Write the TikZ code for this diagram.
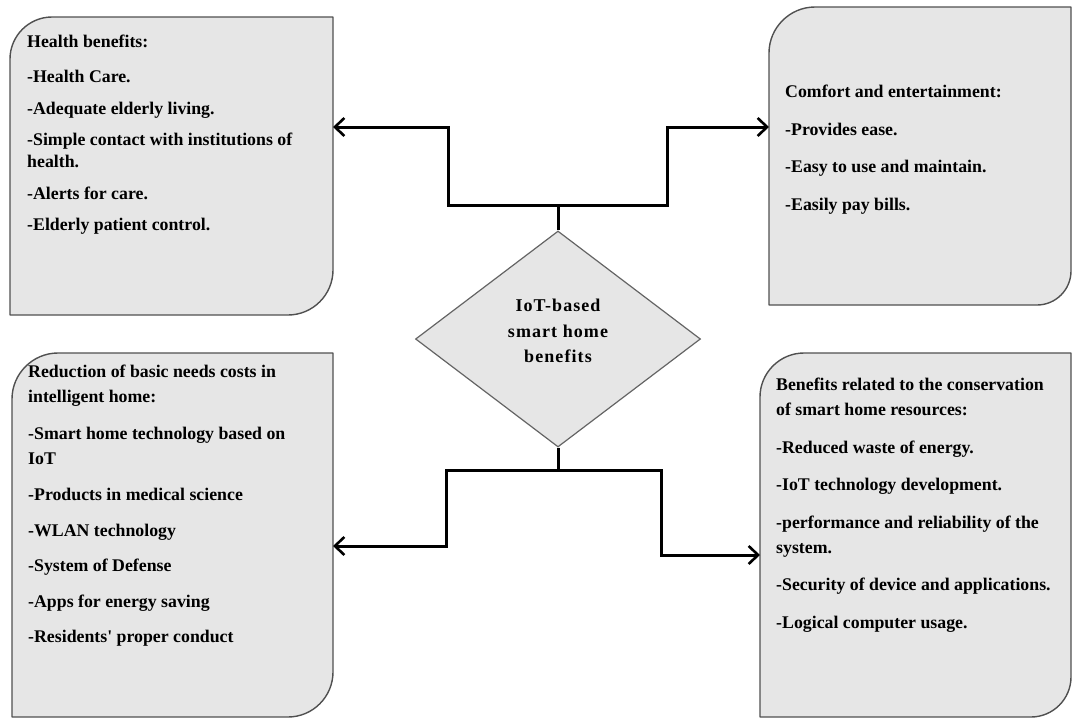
\documentclass[tikz,border=0pt]{standalone}
\usepackage{fontspec}
\setmainfont{Liberation Serif}
\newfontfamily\hubfont[LetterSpace=6]{Liberation Serif}
\usetikzlibrary{shapes.geometric,arrows.meta,calc}

\definecolor{panelfill}{RGB}{230,230,230}
\definecolor{paneledge}{RGB}{80,80,80}
\definecolor{hubedge}{RGB}{100,100,100}

% outline of a panel: rounded top-left and bottom-right corners
\newcommand\panelshape[3]{%
  \draw[panelline] ($(#1.north west)+(0,#2)$)
    .. controls ($(#1.north west)+(0,0.45*#2)$) and ($(#1.north west)+(0.45*#2,0)$) .. ($(#1.north west)+(#2,0)$)
    -- (#1.north east)
    -- ($(#1.south east)+(0,-#3)$)
    .. controls ($(#1.south east)+(0,-0.45*#3)$) and ($(#1.south east)+(-0.45*#3,0)$) .. ($(#1.south east)+(-#3,0)$)
    -- (#1.south west) -- cycle;}

\begin{document}
\begin{tikzpicture}[x=1pt,y=-1pt,
  panelarea/.style={rectangle,inner sep=0pt,outer sep=0pt},
  panelline/.style={draw=paneledge,fill=panelfill,line width=1.4pt,line join=round},
  boxtext/.style={anchor=north west,inner sep=0pt,align=left},
  hub/.style={diamond,draw=hubedge,fill=panelfill,line width=1.2pt,
    minimum width=285pt,minimum height=216pt,inner sep=0pt},
  hubtext/.style={inner sep=0pt,align=center,
    font=\hubfont\bfseries\fontsize{18}{25.5}\selectfont},
  link/.style={draw=black,line width=3pt,
    -{Straight Barb[length=9.5pt,width=18pt,line width=2.6pt]}}]

\useasboundingbox (0,0) rectangle (1072,718);

% panels
\node[panelarea,minimum width=323pt,minimum height=298pt] (health) at (171.5,166) {};
\node[panelarea,minimum width=302pt,minimum height=298pt] (comfort) at (920,156) {};
\node[panelarea,minimum width=321pt,minimum height=364pt] (reduction) at (172.5,535) {};
\node[panelarea,minimum width=311pt,minimum height=364pt] (conservation) at (915.5,535) {};

\panelshape{health}{42}{45}
\panelshape{comfort}{46}{34}
\panelshape{reduction}{46}{45}
\panelshape{conservation}{44}{40}

% panel texts
\node[boxtext,font=\bfseries\fontsize{17.8}{22}\selectfont] (healthtext) at (27,35)
  {Health benefits:\\[13pt]
   -Health Care.\\[9.5pt]
   -Adequate elderly living.\\[9.5pt]
   -Simple contact with institutions of\\
   health.\\[9.5pt]
   -Alerts for care.\\[9.5pt]
   -Elderly patient control.};

\node[boxtext,font=\bfseries\fontsize{17.8}{22}\selectfont] (comforttext) at (785,85)
  {Comfort and entertainment:\\[15.5pt]
   -Provides ease.\\[15.5pt]
   -Easy to use and maintain.\\[15.5pt]
   -Easily pay bills.};

\node[boxtext,font=\bfseries\fontsize{17.8}{25}\selectfont] (reductiontext) at (28,365)
  {Reduction of basic needs costs in\\
   intelligent home:\\[11.5pt]
   -Smart home technology based on\\
   IoT\\[11pt]
   -Products in medical science\\[11pt]
   -WLAN technology\\[10.5pt]
   -System of Defense\\[10.5pt]
   -Apps for energy saving\\[10.5pt]
   -Residents\textquotesingle{} proper conduct};

\node[boxtext,font=\bfseries\fontsize{17.8}{25}\selectfont] (conservationtext) at (776,378)
  {Benefits related to the conservation\\
   of smart home resources:\\[12.5pt]
   -Reduced waste of energy.\\[12.5pt]
   -IoT technology development.\\[12.5pt]
   -performance and reliability of the\\
   system.\\[12.5pt]
   -Security of device and applications.\\[12.5pt]
   -Logical computer usage.};

% central decision shape
\node[hub] (hub) at (558,339) {};
\node[hubtext] (hublabel) at ([yshift=8pt]hub.center) {IoT-based\\smart home\\benefits};

% connector routing levels
\coordinate (topbar) at (0,205);
\coordinate (botbar) at (0,470);
\coordinate (lefttop) at (448,127);
\coordinate (righttop) at (667,127);
\coordinate (leftbot) at (446,546);
\coordinate (rightbot) at (661,555);

% connectors
\draw[link] (hub.north) -- (hub.north |- topbar) -| (lefttop) -- (lefttop -| health.east);
\draw[link] (hub.north |- topbar) -| (righttop) -- (righttop -| comfort.west);
\draw[link] (hub.south) -- (hub.south |- botbar) -| (leftbot) -- (leftbot -| reduction.east);
\draw[link] (hub.south |- botbar) -| (rightbot) -- (rightbot -| conservation.west);

\end{tikzpicture}
\end{document}
